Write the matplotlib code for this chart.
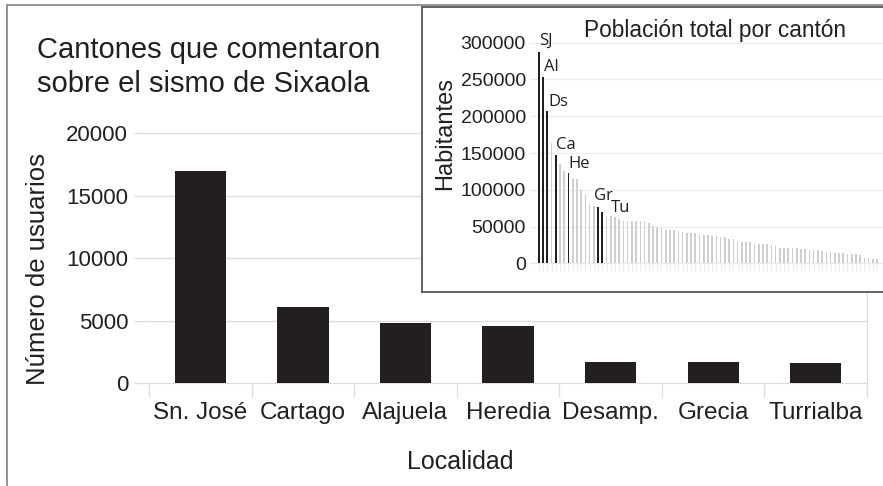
import matplotlib
matplotlib.use("Agg")
import matplotlib.pyplot as plt
from matplotlib.lines import Line2D
import numpy as np

# ---- data ----
localidades = ["Sn. José", "Cartago", "Alajuela", "Heredia", "Desamp.", "Grecia", "Turrialba"]
usuarios = [17000, 6050, 4800, 4600, 1680, 1680, 1600]

poblacion = [288000, 254000, 207000, 164000, 147500, 135500, 126000, 122500, 115000, 115000,
             99700, 94700, 81000, 78300, 76600, 69800, 64700, 64700, 62500, 60200,
             58000, 58000, 57500, 57500, 57000, 57000, 54500, 50300, 49000, 48500,
             45700, 45400, 45400, 43900, 42600, 41700, 41700, 41200, 40300, 38900,
             38900, 37600, 37100, 35800, 35800, 33500, 32600, 29900, 29000, 29000,
             28500, 27600, 26200, 26200, 25800, 24900, 23100, 21300, 20400, 20400,
             20400, 20400, 19500, 19500, 18600, 18100, 17700, 16300, 15900, 15400,
             14500, 14500, 14100, 12700, 12200, 12200, 10900, 7300, 7300, 6300, 5400]
destacados = [0, 1, 2, 4, 7, 14, 15]
etiquetas = ["SJ", "Al", "Ds", "Ca", "He", "Gr", "Tu"]
main_yticks = [0, 5000, 10000, 15000, 20000]
inset_yticks = [0, 50000, 100000, 150000, 200000, 250000, 300000]
titulo = ["Cantones que comentaron", "sobre el sismo de Sixaola"]

W, H = 883, 486
fig = plt.figure(figsize=(W / 100, H / 100), dpi=100)
fig.patch.set_facecolor("white")

def fx(p):
    return p / W

def fy(p):
    return 1 - p / H

# figure border lines (left and top)
fig.add_artist(Line2D([fx(7), fx(7)], [fy(5), fy(485)], color="#8a8a8a", lw=1.3))
fig.add_artist(Line2D([fx(7), fx(883)], [fy(5), fy(5)], color="#8a8a8a", lw=1.3))

DARK = "#231f20"
GRID = "#dedede"

# ---- main chart ----
ax = fig.add_axes([fx(149), fy(383), fx(867 - 149), (383 - 133) / H])
x = np.arange(len(localidades))
ax.bar(x, usuarios, width=0.5, color=DARK, zorder=3)
ax.set_xlim(-0.5, len(localidades) - 0.5)
ax.set_ylim(0, 20000)
ax.set_yticks(main_yticks)
ax.set_yticklabels([str(v) for v in main_yticks], fontsize=16, family="Liberation Sans", color=DARK)
ax.set_xticks(np.arange(-0.5, len(localidades), 1.0), minor=False)
ax.set_xticklabels([])
ax.set_xticks(x, minor=True)
ax.set_xticklabels(localidades, minor=True, fontsize=17.5,
                   family=["Liberation Sans Narrow", "Liberation Sans"], color=DARK)
ax.tick_params(axis="x", which="major", length=10, color=GRID, width=1)
ax.tick_params(axis="x", which="minor", length=0, pad=14)
ax.tick_params(axis="y", length=11, color=GRID, width=1, pad=4)
ax.grid(axis="y", color=GRID, lw=1, zorder=0)
for s in ["left", "top"]:
    ax.spines[s].set_visible(False)
ax.spines["right"].set_color(GRID)
ax.spines["bottom"].set_color(GRID)

fig.text(fx(460), fy(462), "Localidad", ha="center", va="center", fontsize=18,
         family=["Liberation Sans Narrow", "Liberation Sans"], color=DARK)
fig.text(fx(38), fy(269), "Número de usuarios", ha="center", va="center", rotation=90,
         fontsize=18.5, family="Liberation Sans", color=DARK)
fig.text(fx(37), fy(58), titulo[0], ha="left", va="baseline", fontsize=21,
         family="Liberation Sans", color=DARK)
fig.text(fx(37), fy(92), titulo[1], ha="left", va="baseline", fontsize=21,
         family="Liberation Sans", color=DARK)

# ---- inset frame ----
box = fig.add_axes([fx(422), fy(292), fx(470), (292 - 7) / H])
box.set_xticks([])
box.set_yticks([])
box.set_facecolor("white")
for s in box.spines.values():
    s.set_color("#555555")
    s.set_linewidth(1.3)

# ---- inset chart ----
ai = fig.add_axes([fx(530), fy(263.3), fx(883 - 530), (263.3 - 42.7) / H])
ai.patch.set_alpha(0)
n = len(poblacion)
xi = np.arange(n)
colors = ["#cfcfcf"] * n
for i in destacados:
    colors[i] = DARK
widths = [0.45 if c == DARK else 0.38 for c in colors]
ai.bar(xi, poblacion, width=widths, color=colors, zorder=3)
ai.set_xlim(-2.1, 81.4)
ai.set_ylim(0, 300000)
ai.set_yticks(inset_yticks)
ai.set_yticklabels([str(v) for v in inset_yticks], fontsize=14, family="Liberation Sans", color=DARK)
ai.tick_params(axis="y", length=0, pad=3)
ai.set_xticks(xi)
ai.set_xticklabels([])
ai.tick_params(axis="x", length=6, color="#ececec", width=0.8)
ai.grid(axis="y", color="#eeeeee", lw=1, zorder=0)
for s in ["left", "top", "right"]:
    ai.spines[s].set_visible(False)
ai.spines["bottom"].set_color("#eaeaea")
ai.set_title("Población total por cantón", fontsize=16.3, family="Liberation Sans",
             color=DARK, x=(715 - 530) / (883 - 530), pad=4)
fig.text(fx(445), fy(134), "Habitantes", rotation=90, ha="center", va="center",
         fontsize=17, family="Liberation Sans", color=DARK)

offsets = [(0, 2), (1, 1), (1, 1), (0, 1), (0, 1), (-3, 2), (6, -3)]
for idx, lab, off in zip(destacados, etiquetas, offsets):
    ai.annotate(lab, xy=(idx, poblacion[idx]), xytext=off, textcoords="offset points",
                ha="left", va="bottom", fontsize=12, family="Open Sans", color=DARK)

fig.savefig("out.png", dpi=100, facecolor="white")
